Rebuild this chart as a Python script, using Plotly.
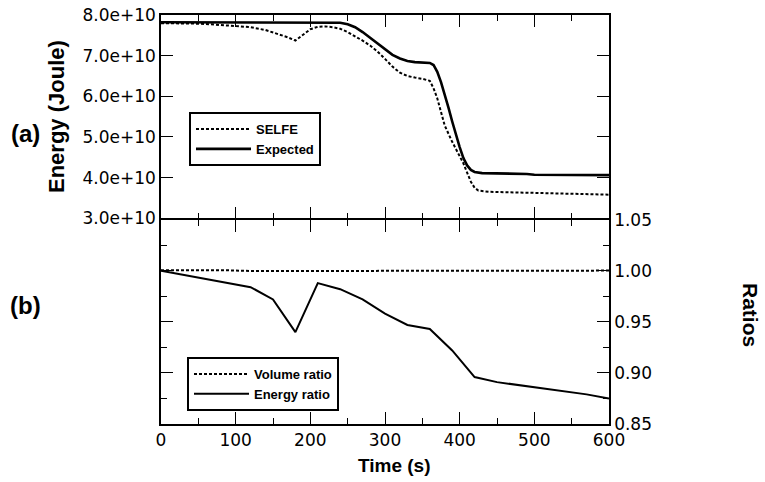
import plotly.graph_objects as go
from plotly.subplots import make_subplots

# ---- data ----
t_selfe = [0, 20, 40, 60, 80, 100, 120, 140, 160, 170, 180, 190, 200, 210, 220, 230, 240,
           250, 260, 270, 280, 290, 300, 310, 320, 330, 340, 350, 360, 365, 370, 380, 390,
           400, 405, 410, 415, 420, 425, 440, 480, 520, 560, 600]
e_selfe = [7.80, 7.80, 7.79, 7.78, 7.75, 7.73, 7.70, 7.63, 7.52, 7.45, 7.37, 7.50, 7.65,
           7.71, 7.72, 7.70, 7.66, 7.58, 7.48, 7.37, 7.25, 7.10, 6.92, 6.73, 6.58, 6.50,
           6.46, 6.43, 6.38, 6.20, 5.95, 5.28, 4.88, 4.55, 4.35, 4.12, 3.90, 3.75, 3.68,
           3.65, 3.63, 3.62, 3.60, 3.58]
e_selfe = [v * 1e10 for v in e_selfe]

t_expected = [0, 50, 100, 150, 200, 230, 240, 250, 260, 270, 280, 290, 300, 310, 320, 330,
              340, 350, 360, 365, 370, 375, 380, 385, 390, 395, 400, 405, 410, 415, 420,
              430, 450, 480, 490, 500, 550, 600]
e_expected = [7.82, 7.82, 7.82, 7.82, 7.82, 7.82, 7.81, 7.77, 7.70, 7.58, 7.44, 7.28, 7.14,
              7.02, 6.93, 6.87, 6.84, 6.83, 6.82, 6.77, 6.60, 6.35, 6.05, 5.72, 5.38, 5.05,
              4.75, 4.48, 4.30, 4.19, 4.14, 4.11, 4.10, 4.10, 4.09, 4.07, 4.07, 4.06]
e_expected = [v * 1e10 for v in e_expected]

t_ratio = [0, 30, 60, 90, 120, 150, 180, 210, 240, 270, 300, 330, 360, 390, 420, 450, 480,
           510, 540, 570, 600]
volume_ratio = [1.0006, 1.0006, 1.0006, 1.0005, 0.9998, 0.9998, 0.9998, 0.9998, 0.9998,
                0.9998, 0.9998, 0.9998, 0.9998, 0.9998, 1.0002, 1.0002, 1.0002, 1.0002,
                1.0002, 1.0002, 1.0002]
energy_ratio = [1.000, 0.996, 0.992, 0.988, 0.984, 0.972, 0.940, 0.988, 0.982, 0.972,
                0.958, 0.947, 0.943, 0.922, 0.896, 0.891, 0.888, 0.885, 0.882, 0.879, 0.875]

energy_tickvals = [3e10, 4e10, 5e10, 6e10, 7e10, 8e10]
energy_ticktext = ["3.0e+10", "4.0e+10", "5.0e+10", "6.0e+10", "7.0e+10", "8.0e+10"]
ratio_tickvals = [0.85, 0.90, 0.95, 1.00, 1.05]
ratio_ticktext = ["0.85", "0.90", "0.95", "1.00", "1.05"]
time_tickvals = [0, 100, 200, 300, 400, 500, 600]

# ---- figure geometry (body margin removed in the page) ----
W, H = 765, 482
L, R, T, B = 161, 156, 15, 58
PW, PH = W - L - R, H - T - B
LW = 1.5


def px(page_x):
    return (page_x - L) / PW


def py(page_y):
    return (H - B - page_y) / PH


fig = make_subplots(rows=2, cols=1, shared_xaxes=True, vertical_spacing=0)

DASH = "3px,2px"
fig.add_trace(go.Scatter(x=t_selfe, y=e_selfe, mode="lines", name="SELFE",
                         line=dict(color="black", width=2, dash=DASH),
                         legend="legend"), row=1, col=1)
fig.add_trace(go.Scatter(x=t_expected, y=e_expected, mode="lines", name="Expected",
                         line=dict(color="black", width=2.6),
                         legend="legend"), row=1, col=1)
fig.add_trace(go.Scatter(x=t_ratio, y=volume_ratio, mode="lines", name="Volume ratio",
                         line=dict(color="black", width=2, dash=DASH),
                         legend="legend2"), row=2, col=1)
fig.add_trace(go.Scatter(x=t_ratio, y=energy_ratio, mode="lines", name="Energy ratio",
                         line=dict(color="black", width=2),
                         legend="legend2"), row=2, col=1)

tickfont = dict(family="DejaVu Sans", size=17, color="black")
axis_common = dict(showline=True, linecolor="black", linewidth=LW, mirror="ticks",
                   ticks="inside", tickcolor="black", tickwidth=1.2, showgrid=False,
                   zeroline=False, tickfont=tickfont, automargin=False,
                   ticklabeloverflow="allow")
top_start = py(219 - LW / 2)
bot_end = py(219 + LW / 2)

legend_font = dict(family="Liberation Sans", size=13, color="black", weight="bold")

fig.update_layout(
    width=W, height=H,
    margin=dict(l=L, r=R, t=T, b=B),
    paper_bgcolor="white", plot_bgcolor="white",
    xaxis=dict(range=[0, 600], tickvals=time_tickvals, showticklabels=False, ticklen=12,
               minor=dict(ticks="inside", dtick=50, ticklen=6, tickcolor="black"),
               **axis_common),
    xaxis2=dict(range=[0, 600], tickvals=time_tickvals, ticklen=12,
                minor=dict(ticks="inside", dtick=50, ticklen=6, tickcolor="black"),
                **axis_common),
    yaxis=dict(domain=[top_start, 1], range=[3e10, 8e10], tickvals=energy_tickvals,
               ticktext=energy_ticktext, ticklen=12, **axis_common),
    yaxis2=dict(domain=[0, bot_end], range=[0.85, 1.05], side="right",
                tickvals=ratio_tickvals, ticktext=ratio_ticktext, ticklen=12,
                minor=dict(ticks="inside", dtick=0.025, ticklen=6, tickcolor="black"),
                **axis_common),
    legend=dict(x=px(189), y=py(112), xanchor="left", yanchor="top",
                bordercolor="black", borderwidth=2, bgcolor="white",
                font=legend_font, itemwidth=55, tracegroupgap=0),
    legend2=dict(x=px(187), y=py(357), xanchor="left", yanchor="top",
                 bordercolor="black", borderwidth=2, bgcolor="white",
                 font=legend_font, itemwidth=55, tracegroupgap=0),
    showlegend=True,
)

bold = dict(family="Liberation Sans", color="black", weight="bold")
ann = [
    dict(text="Energy (Joule)", x=px(56), y=py(117), textangle=-90, font=dict(size=22, **bold)),
    dict(text="(a)", x=px(25), y=py(133), font=dict(size=24, **bold)),
    dict(text="(b)", x=px(25), y=py(305), font=dict(size=24, **bold)),
    dict(text="Ratios", x=px(751), y=py(315), textangle=90, font=dict(size=21, **bold)),
    dict(text="Time (s)", x=px(394), y=py(466), font=dict(size=19, **bold)),
]
for a in ann:
    fig.add_annotation(xref="paper", yref="paper", showarrow=False,
                       xanchor="center", yanchor="middle", **a)

page_css = ("document.body.style.margin='0px';"
            "document.body.style.overflow='hidden';")
fig.write_html("out.html", post_script=page_css, config={"displayModeBar": False})
